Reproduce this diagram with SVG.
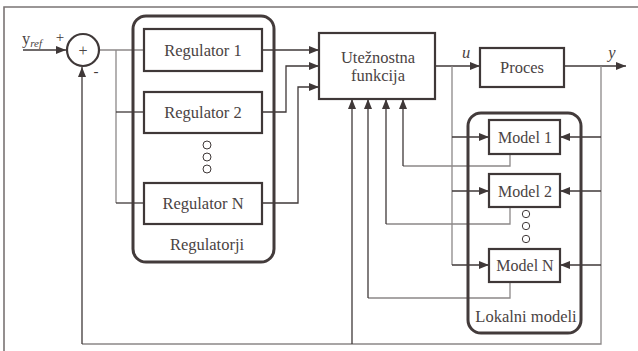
<svg xmlns="http://www.w3.org/2000/svg" width="638" height="351" viewBox="0 0 638 351">
<style>
.t{font-family:"Liberation Serif","Times New Roman",serif;font-size:16.5px;fill:#4a4343;text-anchor:middle}
.box{fill:#fff;stroke:#3f3838;stroke-width:2.2}
.grp{fill:none;stroke:#433b3b;stroke-width:3}
.d{fill:none;stroke:#3f3838;stroke-width:1.3}
.g{fill:none;stroke:#8c8888;stroke-width:1.3}
.dot{fill:#fff;stroke:#3f3838;stroke-width:1}
</style>
<defs>
<marker id="ah" viewBox="0 0 10 8" refX="10" refY="4" markerWidth="10" markerHeight="8" markerUnits="userSpaceOnUse" orient="auto">
<path d="M0,0 L10,4 L0,8 z" fill="#3f3838"/>
</marker>
</defs>
<rect width="638" height="351" fill="#fff"/>
<path d="M4,351 V7 H638" fill="none" stroke="#7a7474" stroke-width="1.6"/>

<g id="connectors">
<path class="d" d="M23,50 H66" marker-end="url(#ah)"/>
<path class="g" d="M99,50 H144"/>
<path class="g" d="M116,50 V203"/>
<path class="d" d="M116,112 H144"/>
<path class="d" d="M116,203 H144"/>
<path class="d" d="M262,50 H319" marker-end="url(#ah)"/>
<path class="d" d="M262,112 H286 V66 H319" marker-end="url(#ah)"/>
<path class="d" d="M262,203 H298 V87 H319" marker-end="url(#ah)"/>
<path class="d" d="M435,66 H480" marker-end="url(#ah)"/>
<path class="g" d="M452,66 V265"/>
<path class="d" d="M452,137 H489" marker-end="url(#ah)"/>
<path class="d" d="M452,191 H489" marker-end="url(#ah)"/>
<path class="d" d="M452,265 H489" marker-end="url(#ah)"/>
<path class="d" d="M564,66 H626" marker-end="url(#ah)"/>
<path class="g" d="M601,66 V344 H82"/>
<path class="d" d="M82,344 V67" marker-end="url(#ah)"/>
<path class="d" d="M601,137 H560" marker-end="url(#ah)"/>
<path class="d" d="M601,191 H560" marker-end="url(#ah)"/>
<path class="d" d="M601,265 H560" marker-end="url(#ah)"/>
<path class="d" d="M352,344 V99" marker-end="url(#ah)"/>
<path class="g" d="M510,282 V298 H368"/>
<path class="d" d="M368,298 V99" marker-end="url(#ah)"/>
<path class="g" d="M510,207 V224 H386"/>
<path class="d" d="M386,224 V99" marker-end="url(#ah)"/>
<path class="g" d="M510,154 V166 H403"/>
<path class="d" d="M403,166 V99" marker-end="url(#ah)"/>
</g>

<g id="input-label">
<text x="22" y="44" font-family="Liberation Serif, serif" font-size="16.5" fill="#4a4343">y<tspan font-size="11" font-style="italic" dy="2.5">ref</tspan></text>
<text x="60" y="42" class="t" style="font-size:15px;fill:#3f3838">+</text>
<text x="96" y="76" class="t" style="font-size:15px;fill:#3f3838">-</text>
</g>

<g id="sum">
<circle cx="83" cy="50" r="16" fill="#fff" stroke="#3f3838" stroke-width="2.2"/>
<text x="83" y="55.5" class="t" style="font-size:16px">+</text>
</g>

<g id="regulatorji">
<rect class="grp" x="133" y="16" width="141" height="246" rx="13"/>
<text x="207" y="250" class="t">Regulatorji</text>
</g>
<g id="reg1">
<rect class="box" x="144" y="29" width="118" height="42"/>
<text x="203" y="55.5" class="t">Regulator 1</text>
</g>
<g id="reg2">
<rect class="box" x="144" y="92" width="118" height="41"/>
<text x="203" y="118" class="t">Regulator 2</text>
</g>
<g id="reg-dots">
<circle class="dot" cx="207" cy="145" r="4"/>
<circle class="dot" cx="207" cy="157" r="4"/>
<circle class="dot" cx="207" cy="169" r="4"/>
</g>
<g id="regN">
<rect class="box" x="144" y="183" width="118" height="41"/>
<text x="203" y="209" class="t">Regulator N</text>
</g>

<g id="utez">
<rect class="box" x="319" y="33" width="116" height="66"/>
<text x="378" y="63" class="t">Utežnostna</text>
<text x="378" y="81" class="t">funkcija</text>
</g>

<g id="u-label"><text x="466" y="58" class="t" style="font-style:italic">u</text></g>

<g id="proces">
<rect class="box" x="480" y="48" width="84" height="39"/>
<text x="522" y="73" class="t">Proces</text>
</g>

<g id="y-label"><text x="612" y="58" class="t" style="font-style:italic">y</text></g>

<g id="lokalni">
<rect class="grp" x="468" y="113" width="113" height="220" rx="13"/>
<text x="526" y="322" class="t">Lokalni modeli</text>
</g>
<g id="model1">
<rect class="box" x="489" y="120" width="71" height="34"/>
<text x="525" y="143" class="t" style="font-size:16px">Model 1</text>
</g>
<g id="model2">
<rect class="box" x="489" y="174" width="71" height="33"/>
<text x="525" y="197" class="t" style="font-size:16px">Model 2</text>
</g>
<g id="model-dots">
<circle class="dot" cx="526" cy="214" r="3.7"/>
<circle class="dot" cx="526" cy="226" r="3.7"/>
<circle class="dot" cx="526" cy="239" r="3.7"/>
</g>
<g id="modelN">
<rect class="box" x="489" y="249" width="71" height="33"/>
<text x="525" y="271" class="t" style="font-size:16px">Model N</text>
</g>
</svg>
